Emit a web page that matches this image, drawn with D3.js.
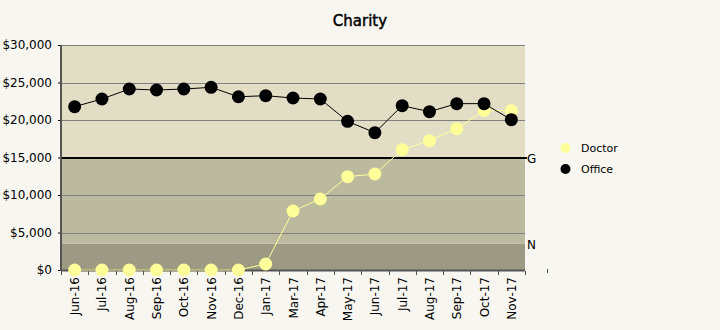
<!DOCTYPE html>
<html><head><meta charset="utf-8">
<script src="https://cdn.jsdelivr.net/npm/d3@7"></script>
<style>
body{margin:0;background:#f8f6f0;}
text{font-family:"DejaVu Sans",Verdana,sans-serif;}
</style></head>
<body><svg id="c" width="720" height="330"></svg>
<script>
const categories = ["Jun-16","Jul-16","Aug-16","Sep-16","Oct-16","Nov-16","Dec-16","Jan-17","Mar-17","Apr-17","May-17","Jun-17","Jul-17","Aug-17","Sep-17","Oct-17","Nov-17"];
const doctor = [0,0,0,0,0,0,0,800,7870,9470,12440,12800,16040,17240,18840,21290,21240];
const office = [21780,22800,24130,24000,24130,24360,23100,23240,22930,22800,19820,18310,21910,21110,22180,22180,20040];
const yTicks = [0,5000,10000,15000,20000,25000,30000];
const bands = [{from:0,to:3500,color:"#9c9a83",label:"N"},{from:3500,to:15000,color:"#bbb99e",label:"G"},{from:15000,to:30000,color:"#e2dec6",label:""}];
const seriesNames = ["Doctor","Office"];
const seriesColors = ["#ffff99","#000000"];

const svg = d3.select("#c");
const L=61,R=525,T=45,B=270;
const x = d3.scaleBand().domain(categories).range([L,R]);
const y = d3.scaleLinear().domain([0,30000]).range([B,T]);

svg.append("text").attr("x",360).attr("y",26).attr("text-anchor","middle")
  .style("font-size","15px").attr("stroke","#000").attr("stroke-width",0.45).attr("fill","#000").text("Charity");

svg.selectAll("rect.band").data(bands).enter().append("rect")
  .attr("x",L).attr("width",R-L).attr("y",d=>y(d.to)).attr("height",d=>y(d.from)-y(d.to)).attr("fill",d=>d.color);

// grid
svg.selectAll("line.grid").data(yTicks.filter(v=>v>0 && v!==15000)).enter().append("line")
  .attr("x1",L).attr("x2",R).attr("y1",d=>Math.round(y(d))+0.5).attr("y2",d=>Math.round(y(d))+0.5)
  .attr("stroke","#7f7f7f").attr("stroke-width",1);
svg.append("line").attr("x1",L).attr("x2",R+2).attr("y1",Math.round(y(15000))).attr("y2",Math.round(y(15000)))
  .attr("stroke","#000").attr("stroke-width",2);

// band labels
bands.filter(b=>b.label).forEach(b=>{
  svg.append("text").attr("x",527).attr("y",y(b.to)+5).style("font-size","12px").attr("fill","#000").text(b.label);
});

// y axis
const yAxis = d3.axisLeft(y).tickValues(yTicks).tickSize(3).tickPadding(6).tickFormat(d=>"$"+d3.format(",")(d));
const ya = svg.append("g").attr("transform",`translate(${L},0)`).call(yAxis);
ya.select(".domain").remove();
ya.selectAll("text").style("font-size","12px").attr("fill","#000");
ya.selectAll("line").attr("stroke","#000");
svg.append("line").attr("x1",L).attr("x2",L).attr("y1",T).attr("y2",B+1).attr("stroke","#555").attr("stroke-width",2);

// x axis
const xa = svg.append("g").attr("transform",`translate(0,${B})`);
xa.append("line").attr("x1",L).attr("x2",R).attr("y1",0.5).attr("y2",0.5).attr("stroke","#555").attr("stroke-width",2);
const bounds = categories.map(c=>x(c)).concat([R]);
xa.selectAll("line.t").data(bounds).enter().append("line")
  .attr("x1",d=>Math.round(d)+0.5).attr("x2",d=>Math.round(d)+0.5).attr("y1",1).attr("y2",5).attr("stroke","#555");
xa.selectAll("text").data(categories).enter().append("text")
  .attr("transform",d=>`translate(${x(d)+x.bandwidth()/2+4.5},7) rotate(-90)`)
  .attr("text-anchor","end").style("font-size","12px").attr("fill","#000").text(d=>d);
svg.append("line").attr("x1",547.5).attr("x2",547.5).attr("y1",269).attr("y2",273).attr("stroke","#555");

// series
const cx = d=>x(d)+x.bandwidth()/2;
[[doctor,0],[office,1]].forEach(([vals,i])=>{
  const pts = categories.map((c,j)=>[cx(c),y(vals[j])]);
  svg.append("path").attr("d",d3.line()(pts)).attr("fill","none").attr("stroke",seriesColors[i]).attr("stroke-width",1);
  svg.selectAll(null).data(pts).enter().append("circle").attr("cx",d=>d[0]).attr("cy",d=>d[1]).attr("r",6.5).attr("fill",seriesColors[i]);
});

// legend
const lg = svg.append("g");
seriesNames.forEach((n,i)=>{
  lg.append("circle").attr("cx",565.5).attr("cy",148+i*21).attr("r",5).attr("fill",seriesColors[i]);
  lg.append("text").attr("x",581).attr("y",152+i*21).style("font-size","11px").attr("fill","#000").text(n);
});
</script></body></html>
